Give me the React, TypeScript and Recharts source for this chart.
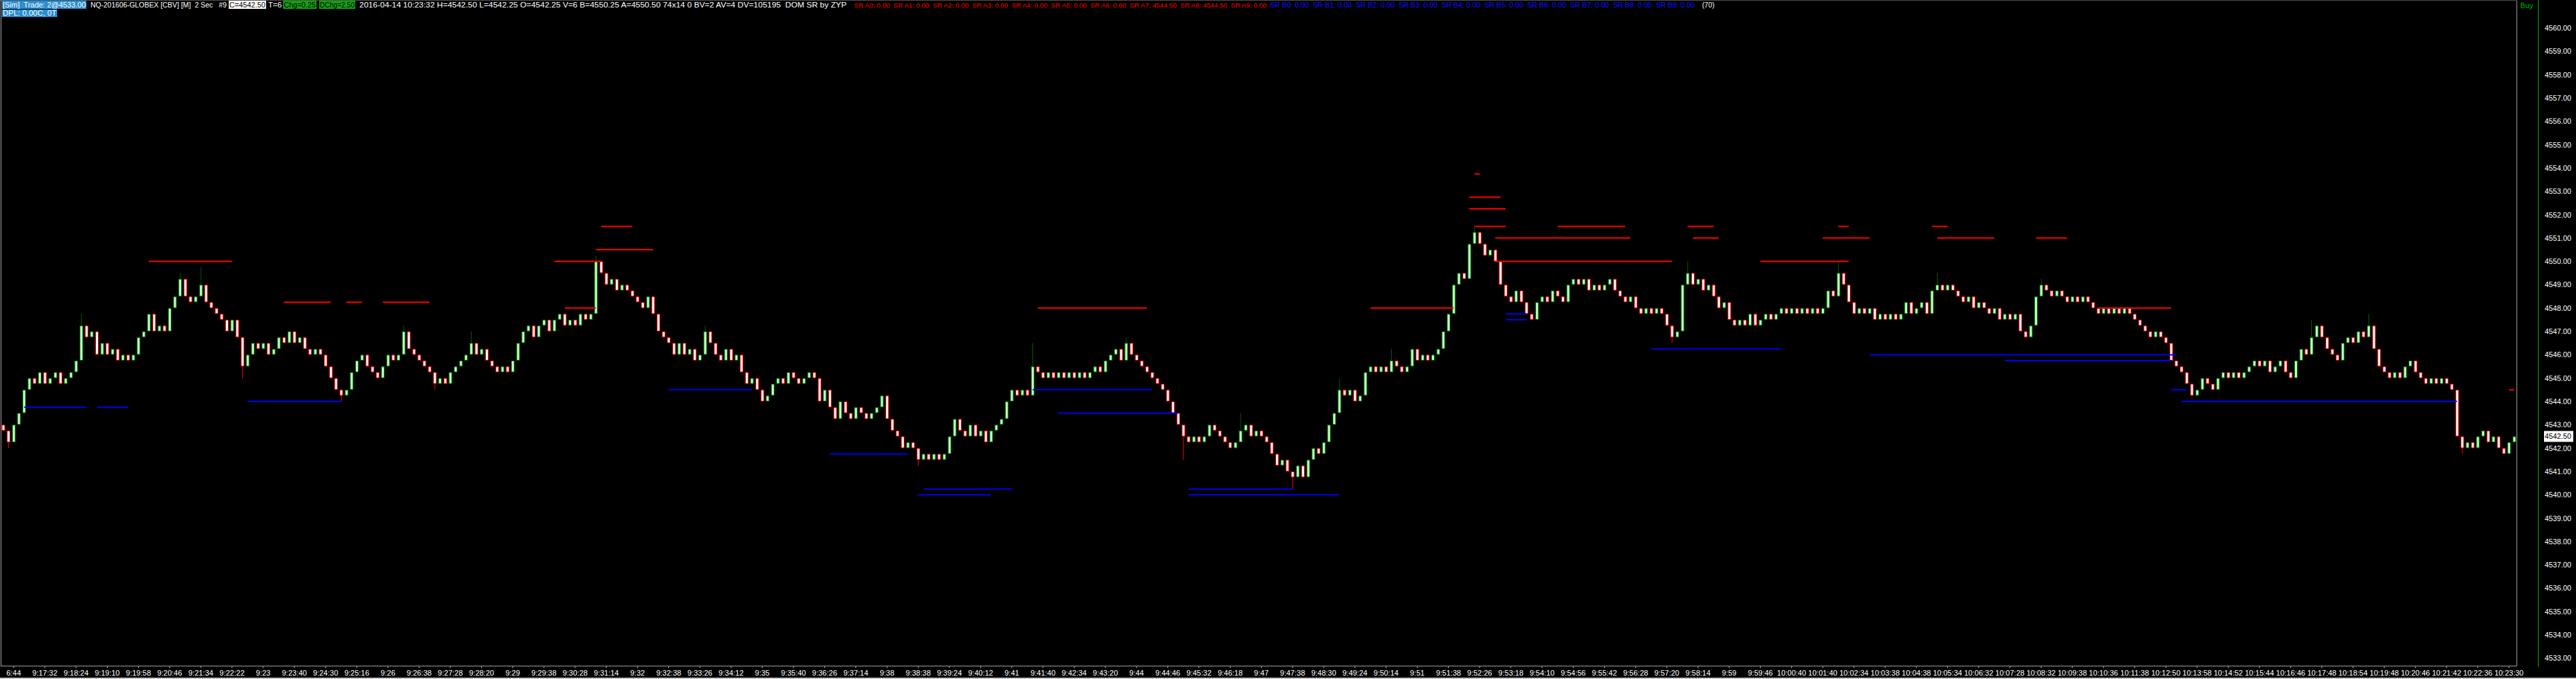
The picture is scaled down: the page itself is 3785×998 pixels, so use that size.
import React from 'react';
import { ComposedChart, Bar, XAxis, YAxis, ReferenceLine } from 'recharts';

const firstOpen = 4543.0;

const closesA = [
  4542.75, 4542.25, 4543.0, 4543.5, 4544.5, 4545.0, 4544.75, 4545.25, 4544.75, 4545.0, 4545.25, 4544.75,
  4545.0, 4545.25, 4545.75, 4547.25, 4546.75, 4547.0, 4546.0, 4546.5, 4546.0, 4546.25, 4545.75, 4546.0,
  4545.75, 4546.0, 4546.75, 4547.0, 4547.75, 4547.0, 4547.25, 4547.0, 4548.0, 4548.5, 4549.25, 4548.5,
  4548.25, 4548.5, 4549.0, 4548.25, 4548.0, 4547.75, 4547.5, 4547.0, 4547.5, 4546.75, 4545.5, 4546.0,
  4546.5, 4546.25, 4546.5, 4546.0, 4546.25, 4546.75, 4546.5, 4547.0, 4546.5, 4546.75, 4546.25, 4546.0,
  4546.25, 4546.0, 4545.5, 4545.0, 4544.5, 4544.25, 4544.5, 4545.25, 4545.75, 4546.0, 4545.5, 4545.25,
  4545.0, 4545.5, 4546.0, 4545.75, 4546.0, 4547.0, 4546.25, 4546.0, 4545.75, 4545.5, 4545.25, 4544.75,
  4545.0, 4544.75, 4545.25, 4545.5, 4545.75, 4546.0, 4546.5, 4546.0, 4546.25, 4545.75, 4545.5, 4545.25,
  4545.5, 4545.25, 4545.75, 4546.5, 4547.0, 4547.25, 4546.75, 4547.25, 4547.5, 4547.0, 4547.5, 4547.75,
  4547.25, 4547.5, 4547.25, 4547.75, 4547.5, 4547.75, 4550.0, 4549.5, 4549.0, 4549.25, 4548.75, 4549.0,
];
const closesB = [
  4548.75, 4548.5, 4548.25, 4548.0, 4548.5, 4547.75, 4547.0, 4546.75, 4546.5, 4546.0, 4546.5, 4546.0,
  4546.25, 4545.75, 4546.0, 4547.0, 4546.5, 4546.0, 4545.75, 4546.25, 4545.75, 4546.0, 4545.25, 4544.75,
  4545.0, 4544.5, 4544.0, 4544.25, 4544.75, 4545.0, 4544.75, 4545.25, 4545.0, 4544.75, 4545.0, 4545.25,
  4545.0, 4544.0, 4544.5, 4543.75, 4543.25, 4544.0, 4543.5, 4543.25, 4543.75, 4543.5, 4543.25, 4543.5,
  4543.75, 4544.25, 4543.25, 4542.75, 4542.5, 4542.0, 4542.25, 4542.0, 4541.5, 4541.75, 4541.5, 4541.75,
  4541.5, 4541.75, 4542.5, 4543.25, 4542.75, 4542.5, 4543.0, 4542.5, 4542.75, 4542.25, 4542.75, 4543.0,
  4543.25, 4544.0, 4544.5, 4544.25, 4544.5, 4544.25, 4545.5, 4545.25, 4545.0, 4545.25, 4545.0, 4545.25,
  4545.0, 4545.25, 4545.0, 4545.25, 4545.0, 4545.25, 4545.5, 4545.25, 4545.75, 4546.0, 4546.25, 4545.75,
  4546.5, 4546.0, 4545.75, 4545.5, 4545.25, 4545.0, 4544.75, 4544.5, 4544.0, 4543.5, 4543.0, 4542.5,
  4542.25, 4542.5, 4542.25, 4542.5, 4543.0, 4542.75, 4542.5, 4542.25, 4542.0, 4542.25, 4542.75, 4543.0,
];
const closesC = [
  4542.5, 4542.75, 4542.5, 4542.25, 4541.75, 4541.25, 4541.5, 4541.0, 4540.75, 4541.25, 4540.75, 4541.5,
  4542.0, 4541.75, 4542.25, 4543.0, 4543.5, 4544.5, 4544.25, 4544.5, 4544.0, 4544.25, 4545.25, 4545.5,
  4545.25, 4545.5, 4545.25, 4545.75, 4545.5, 4545.25, 4545.5, 4546.25, 4545.75, 4546.0, 4545.75, 4546.0,
  4546.25, 4547.0, 4547.75, 4549.0, 4549.5, 4549.25, 4550.75, 4551.25, 4550.75, 4550.25, 4550.5, 4550.0,
  4549.0, 4548.5, 4548.25, 4548.75, 4548.25, 4547.75, 4547.5, 4548.25, 4548.5, 4548.25, 4548.75, 4548.5,
  4548.25, 4549.0, 4549.25, 4549.0, 4549.25, 4548.75, 4549.0, 4548.75, 4549.0, 4549.25, 4548.75, 4548.5,
  4548.25, 4548.5, 4548.0, 4547.75, 4548.0, 4547.75, 4548.0, 4547.75, 4547.25, 4546.75, 4547.0, 4549.0,
  4549.5, 4549.0, 4549.25, 4548.75, 4549.0, 4548.5, 4548.0, 4548.25, 4547.5, 4547.25, 4547.5, 4547.25,
  4547.75, 4547.25, 4547.5, 4547.75, 4547.5, 4547.75, 4548.0, 4547.75, 4548.0, 4547.75, 4548.0, 4547.75,
  4548.0, 4547.75, 4548.0, 4548.75, 4548.5, 4549.5, 4549.0, 4548.25, 4547.75, 4548.0, 4547.75, 4548.0,
];
const closesD = [
  4547.5, 4547.75, 4547.5, 4547.75, 4547.5, 4547.75, 4548.25, 4547.75, 4548.0, 4548.25, 4547.75, 4548.75,
  4549.0, 4548.75, 4549.0, 4548.75, 4548.5, 4548.25, 4548.5, 4548.0, 4548.25, 4548.0, 4547.75, 4548.0,
  4547.5, 4547.75, 4547.5, 4547.75, 4547.0, 4546.75, 4547.25, 4548.5, 4549.0, 4548.75, 4548.5, 4548.75,
  4548.5, 4548.25, 4548.5, 4548.25, 4548.5, 4548.25, 4548.0, 4547.75, 4548.0, 4547.75, 4548.0, 4547.75,
  4548.0, 4547.75, 4547.5, 4547.25, 4547.0, 4546.75, 4547.0, 4546.75, 4546.5, 4545.75, 4545.5, 4545.25,
  4544.75, 4544.25, 4544.5, 4545.0, 4544.75, 4544.5, 4545.0, 4545.25, 4545.0, 4545.25, 4545.0, 4545.25,
  4545.5, 4545.75, 4545.5, 4545.75, 4545.25, 4545.5, 4545.75, 4545.25, 4545.0, 4545.75, 4546.25, 4546.0,
  4546.75, 4547.25, 4546.75, 4546.25, 4546.0, 4545.75, 4546.5, 4546.75, 4546.5, 4547.0, 4546.75, 4547.25,
  4546.25, 4545.5, 4545.25, 4545.0, 4545.25, 4545.0, 4545.5, 4545.75, 4545.25, 4545.0, 4544.75, 4545.0,
  4544.75, 4545.0, 4544.75, 4544.5, 4542.5, 4542.0, 4542.25, 4542.0, 4542.5, 4542.75, 4542.25, 4542.5,
  4542.0, 4541.75, 4542.25, 4542.5,
];

// [bar index, price] of visible wick extremes
const upperWicks: [number, number][] = [
  [15, 4547.75], [34, 4549.5], [38, 4549.75], [77, 4547.25], [90, 4547.0], [114, 4550.25],
  [135, 4547.25], [198, 4546.5], [216, 4546.75], [238, 4543.5], [257, 4545.0], [267, 4546.25],
  [283, 4551.5], [324, 4550.0], [353, 4550.0], [372, 4549.5], [392, 4549.25], [444, 4547.5], [455, 4547.75],
];
const lowerWicks: [number, number][] = [
  [1, 4542.0], [46, 4545.0], [65, 4544.0], [83, 4544.5], [176, 4541.25], [227, 4541.5],
  [248, 4540.25], [321, 4546.5], [473, 4541.75],
];

const timeLabels = [
  '6:44', '9:17:32', '9:18:24', '9:19:10', '9:19:58', '9:20:46', '9:21:34', '9:22:22', '9:23', '9:23:40',
  '9:24:30', '9:25:16', '9:26', '9:26:38', '9:27:28', '9:28:20', '9:29', '9:29:38', '9:30:28', '9:31:14',
  '9:32', '9:32:38', '9:33:26', '9:34:12', '9:35', '9:35:40', '9:36:26', '9:37:14', '9:38', '9:38:38',
  '9:39:24', '9:40:12', '9:41', '9:41:40', '9:42:34', '9:43:20', '9:44', '9:44:46', '9:45:32', '9:46:18',
  '9:47', '9:47:38', '9:48:30', '9:49:24', '9:50:14', '9:51', '9:51:38', '9:52:26', '9:53:18', '9:54:10',
  '9:54:56', '9:55:42', '9:56:28', '9:57:20', '9:58:14', '9:59', '9:59:46', '10:00:40', '10:01:40', '10:02:34',
  '10:03:38', '10:04:38', '10:05:34', '10:06:32', '10:07:28', '10:08:32', '10:09:38', '10:10:36', '10:11:38', '10:12:50',
  '10:13:58', '10:14:52', '10:15:44', '10:16:46', '10:17:48', '10:18:54', '10:19:48', '10:20:46', '10:21:42', '10:22:36',
  '10:23:30',
];

const priceTicks = [
  4533, 4534, 4535, 4536, 4537, 4538, 4539, 4540, 4541, 4542, 4543, 4544, 4545, 4546,
  4547, 4548, 4549, 4550, 4551, 4552, 4553, 4554, 4555, 4556, 4557, 4558, 4559, 4560,
];
const lastPrice = 4542.5;

// [price, from bar, to bar]
const askLines: [number, number, number][] = [
  [4550.0, 28, 44], [4548.25, 54, 63], [4548.25, 66, 69], [4548.25, 73, 82],
  [4550.0, 106, 115], [4550.5, 114, 125], [4551.5, 115, 121], [4548.0, 108, 114],
  [4548.0, 199, 220], [4548.0, 263, 279], [4550.0, 287, 321], [4550.0, 338, 355],
  [4551.0, 287, 313], [4551.0, 325, 330], [4551.0, 350, 359], [4551.0, 372, 383], [4551.0, 391, 397],
  [4551.5, 283, 289], [4551.5, 299, 312], [4551.5, 324, 329], [4551.5, 353, 355], [4551.5, 371, 374],
  [4552.25, 282, 289], [4552.75, 282, 288], [4553.75, 283, 284], [4548.0, 403, 417], [4544.5, 482, 483],
];
const bidLines: [number, number, number][] = [
  [4543.75, 4, 16], [4543.75, 18, 24], [4544.0, 47, 65], [4544.5, 128, 144],
  [4541.75, 159, 174], [4540.25, 177, 194], [4540.0, 176, 190], [4544.5, 198, 221],
  [4543.5, 203, 226], [4540.25, 228, 248], [4540.0, 228, 257], [4547.75, 289, 293],
  [4547.5, 289, 293], [4546.25, 317, 342], [4546.0, 359, 418], [4545.75, 385, 417],
  [4544.0, 419, 472], [4544.5, 417, 420],
];

// header texts: [text, left, width, color, background, font size]
const headerRow1: [string, number, number, string, string | null, number][] = [
  ['[Sim]  Trade: 2@4533.00', 4, 122, '#ffffff', '#2a8ed2', 11],
  ['NQ-201606-GLOBEX [CBV] [M]  2 Sec   #9', 133, 200, '#ffffff', null, 10],
  ['C=4542.50', 337, 53, '#000000', '#ffffff', 11],
  ['T=6', 394, 20, '#ffffff', null, 11],
  ['Chg=0.25', 417, 47, '#000000', '#14a014', 11],
  ['DChg=2.50', 470, 51, '#000000', '#14a014', 11],
  ['2016-04-14 10:23:32 H=4542.50 L=4542.25 O=4542.25 V=6 B=4550.25 A=4550.50 74x14 0 BV=2 AV=4 DV=105195  DOM SR by ZYP', 528, 716, '#ffffff', null, 10.5],
  ['SR A0: 0.00  SR A1: 0.00  SR A2: 0.00  SR A3: 0.00  SR A4: 0.00  SR A5: 0.00  SR A6: 0.00  SR A7: 4544.50  SR A8: 4544.50  SR A9: 0.00', 1255, 606, '#ff0000', null, 9.5],
  ['SR B0: 0.00  SR B1: 0.00  SR B2: 0.00  SR B3: 0.00  SR B4: 0.00  SR B5: 0.00  SR B6: 0.00  SR B7: 0.00  SR B8: 0.00  SR B9: 0.00', 1866, 624, '#1010ff', null, 10.2],
  ['(70)', 2501, 18, '#ffffff', null, 11],
];
const headerRow2: [string, number, number, string, string | null, number][] = [
  ['DPL: 0.00C, 0T', 4, 79, '#ffffff', '#2a8ed2', 11],
];

const closes = [...closesA, ...closesB, ...closesC, ...closesD];
const hiMap = new Map(upperWicks);
const loMap = new Map(lowerWicks);
let lastDir = 1;
const rows = closes.map((c, i) => {
  const o = i === 0 ? firstOpen : closes[i - 1];
  const hi = Math.max(o, c, hiMap.has(i) ? (hiMap.get(i) as number) : -Infinity);
  const lo = Math.min(o, c, loMap.has(i) ? (loMap.get(i) as number) : Infinity);
  if (c > o) lastDir = 1;
  else if (c < o) lastDir = -1;
  return { i, o, c, range: [lo, hi], dir: lastDir };
});
const labelByIndex = new Map(timeLabels.map((t, j) => [2 + 6 * j, t] as [number, string]));
const xTicks = timeLabels.map((_, j) => 2 + 6 * j);

const UP_LINE = '#007800';
const UP_FILL = '#c4ffc4';
const UP_WICK = '#005c00';
const DN_LINE = '#ff0000';
const DN_FILL = '#ffffff';
const FONT = 'Liberation Sans, Arial, sans-serif';

const Candle = (props: any) => {
  const { x, y, width, height, payload } = props;
  if (!payload || x == null || y == null) return null;
  const { o, c, range, dir } = payload;
  const lo = range[0];
  const hi = range[1];
  const top = Math.min(y, y + (height || 0));
  const h = Math.abs(height || 0);
  const cx = x + width / 2;
  const ppp = hi > lo ? h / (hi - lo) : 0;
  const py = (v: number) => top + (hi - v) * ppp;
  const up = dir > 0;
  const line = up ? UP_LINE : DN_LINE;
  const wick = up ? UP_WICK : DN_LINE;
  const bTop = py(Math.max(o, c));
  const bBot = py(Math.min(o, c));
  const bw = 5;
  return (
    <g>
      {h > 0.5 && (
        <line x1={cx} x2={cx} y1={top} y2={top + h} stroke={wick} strokeWidth={1} />
      )}
      {c === o ? (
        <line x1={cx - 3} x2={cx + 3} y1={bTop} y2={bTop} stroke={line} strokeWidth={1.5} />
      ) : (
        <rect
          x={cx - bw / 2 + 0.5}
          y={bTop + 0.5}
          width={bw - 1}
          height={Math.max(bBot - bTop - 1, 0.5)}
          fill={up ? UP_FILL : DN_FILL}
          stroke={line}
          strokeWidth={1}
        />
      )}
    </g>
  );
};

const PriceTick = (props: any) => {
  const { x, y, payload } = props;
  const v = payload.value;
  if (v === lastPrice) {
    return (
      <g>
        <rect x={x - 1} y={y - 8} width={43} height={16} fill="#ffffff" />
        <text x={x} y={y + 4} fill="#000000" fontSize={11} fontFamily={FONT} textLength={39} lengthAdjust="spacingAndGlyphs">
          {v.toFixed(2)}
        </text>
      </g>
    );
  }
  return (
    <text x={x} y={y + 4} fill="#ffffff" fontSize={11} fontFamily={FONT} textLength={39} lengthAdjust="spacingAndGlyphs">
      {v.toFixed(2)}
    </text>
  );
};

const HeaderRow = ({ items, baseline, boxTop, boxH }: any) => (
  <>
    {items.map(([t, left, w, color, bg, fs]: any, k: number) => (
      <g key={k}>
        {bg && <rect x={left - 4 < 0 ? 0 : left - 1} y={boxTop} width={w + (left - 4 < 0 ? left + 2 : 2)} height={boxH} fill={bg} />}
        <text
          x={left}
          y={baseline}
          fill={color}
          fontSize={fs}
          fontFamily={FONT}
          textLength={w}
          lengthAdjust="spacingAndGlyphs"
          style={{ whiteSpace: 'pre' }}
          xmlSpace="preserve"
        >
          {t}
        </text>
      </g>
    ))}
  </>
);

export default function App() {
  return (
    <div
      style={{
        position: 'absolute',
        left: 0,
        top: 0,
        width: 3785,
        height: 998,
        background: '#000000',
        overflow: 'hidden',
      }}
    >
      <div style={{ position: 'absolute', left: 0, top: 0 }}>
        <ComposedChart
          width={3785}
          height={998}
          data={rows}
          margin={{ top: 1, right: 0, left: 1, bottom: 0 }}
          barCategoryGap={0}
          barGap={0}
        >
          <XAxis
            dataKey="i"
            type="category"
            ticks={xTicks}
            interval={0}
            tickFormatter={(v: any) => labelByIndex.get(v) || ''}
            height={19}
            axisLine={{ stroke: '#a8a8a8', strokeWidth: 1 }}
            tickLine={{ stroke: '#a8a8a8' }}
            tickSize={3}
            tickMargin={3}
            tick={{ fill: '#ffffff', fontSize: 11, fontFamily: FONT }}
          />
          <YAxis
            orientation="right"
            type="number"
            domain={[4532.66, 4561.17]}
            allowDataOverflow
            ticks={[...priceTicks, lastPrice]}
            interval={0}
            width={87}
            axisLine={{ stroke: '#a8a8a8', strokeWidth: 1 }}
            tickLine={false}
            tickSize={0}
            tickMargin={41}
            tick={<PriceTick />}
          />
          {askLines.map(([p, a, b], k) => (
            <ReferenceLine
              key={'a' + k}
              segment={[{ x: a, y: p }, { x: b, y: p }]}
              stroke="#ff0000"
              strokeWidth={2}
              ifOverflow="visible"
            />
          ))}
          {bidLines.map(([p, a, b], k) => (
            <ReferenceLine
              key={'b' + k}
              segment={[{ x: a, y: p }, { x: b, y: p }]}
              stroke="#0000f0"
              strokeWidth={2}
              ifOverflow="visible"
            />
          ))}
          <Bar dataKey="range" isAnimationActive={false} shape={<Candle />} />
        </ComposedChart>
      </div>

      {/* frame lines */}
      <div style={{ position: 'absolute', left: 0, top: 0, width: 3698, height: 1, background: '#505050' }} />
      <div style={{ position: 'absolute', left: 1, top: 0, width: 1, height: 979, background: '#a8a8a8' }} />
      <div style={{ position: 'absolute', left: 3729, top: 0, width: 1, height: 980, background: '#00b000' }} />
      <div style={{ position: 'absolute', left: 0, top: 996, width: 3785, height: 2, background: '#c8c8c8' }} />

      {/* header */}
      <svg width={3785} height={30} style={{ position: 'absolute', left: 0, top: 0 }}>
        <HeaderRow items={headerRow1} baseline={11} boxTop={1} boxH={12} />
        <HeaderRow items={headerRow2} baseline={23} boxTop={14} boxH={11} />
        <text x={3703} y={12} fill="#00b000" fontSize={11} fontFamily={FONT} textLength={19} lengthAdjust="spacingAndGlyphs">
          Buy
        </text>
      </svg>
    </div>
  );
}
